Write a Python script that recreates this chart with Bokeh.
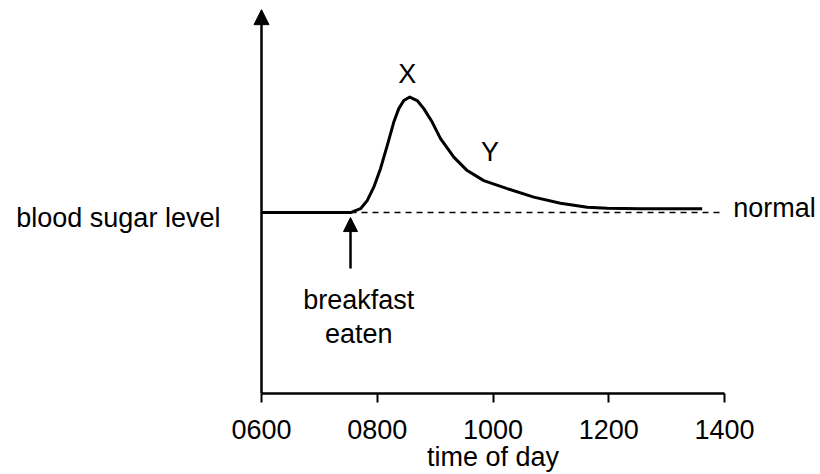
from bokeh.plotting import figure
from bokeh.models import Range1d, FixedTicker, Arrow, NormalHead, Label, LinearAxis
from bokeh.embed import file_html
from bokeh.resources import INLINE

# ---- data (time in hours, blood sugar in arbitrary units) ----
curve_t = [6.0, 7.538, 7.711, 7.826, 7.940, 8.056, 8.172, 8.286, 8.372, 8.459,
           8.562, 8.690, 8.804, 8.949, 9.093, 9.323, 9.554, 9.841, 10.245,
           10.705, 11.166, 11.628, 11.973, 12.549, 13.615]
curve_y = [4.70, 4.70, 4.80, 5.01, 5.36, 5.84, 6.44, 7.05, 7.40, 7.61,
           7.70, 7.61, 7.40, 7.05, 6.62, 6.14, 5.79, 5.53, 5.32,
           5.10, 4.94, 4.84, 4.81, 4.80, 4.80]
normal_level = 4.70
normal_t = [7.538, 13.95]
breakfast_time = 7.538
breakfast_arrow_y = [3.25, 4.57]
axis_top = 9.97
tick_vals = [6, 8, 10, 12, 14]
tick_labels = ["0600", "0800", "1000", "1200", "1400"]
x_title = "time of day"

FONT = "Liberation Sans"
FS = "27px"

p = figure(width=820, height=474, x_range=Range1d(1.4903, 15.6587),
           y_range=Range1d(0, 10.208),
           output_backend="svg", toolbar_location=None,
           min_border_left=0, min_border_right=0, min_border_top=0,
           min_border_bottom=81)
p.outline_line_color = None
p.xgrid.visible = False
p.ygrid.visible = False
p.yaxis.visible = False
p.background_fill_color = "white"
p.border_fill_color = "white"

ax = p.xaxis[0]
ax.bounds = (6, 14)
ax.ticker = FixedTicker(ticks=tick_vals)
ax.major_label_overrides = {v: s for v, s in zip(tick_vals, tick_labels)}
ax.axis_line_width = 2.5
ax.axis_line_color = "black"
ax.major_tick_line_width = 2
ax.major_tick_line_color = "black"
ax.major_tick_out = 9
ax.major_tick_in = 0
ax.minor_tick_line_color = None
ax.major_label_standoff = 17
ax.major_label_text_font = FONT
ax.major_label_text_font_size = FS
ax.major_label_text_color = "black"

# axis title as a second, line-less axis centred at 1000
ax2 = LinearAxis(ticker=FixedTicker(ticks=[10]),
                 major_label_overrides={10: x_title},
                 axis_line_color=None, major_tick_line_color=None,
                 minor_tick_line_color=None, major_tick_out=0, major_tick_in=0,
                 major_label_standoff=0, major_label_text_font=FONT,
                 major_label_text_font_size=FS, major_label_text_color="black")
p.add_layout(ax2, "below")

# y axis as an arrow
p.add_layout(Arrow(x_start=6, y_start=0, x_end=6, y_end=axis_top,
                   line_width=2.5, line_color="black",
                   end=NormalHead(size=15, fill_color="black", line_color="black")))

# normal level dashed line
p.line(normal_t, [normal_level, normal_level], line_color="black", line_width=1.5,
       line_dash="6 5")

# blood sugar curve
p.line(curve_t, curve_y, line_color="black", line_width=3, line_join="round")

# breakfast arrow
p.add_layout(Arrow(x_start=breakfast_time, y_start=breakfast_arrow_y[0],
                   x_end=breakfast_time, y_end=breakfast_arrow_y[1],
                   line_width=2.5, line_color="black",
                   end=NormalHead(size=14, fill_color="black", line_color="black")))

def lab(x, y, text, align="center"):
    p.add_layout(Label(x=x, y=y, text=text, text_align=align,
                       text_baseline="alphabetic", text_font=FONT,
                       text_font_size=FS, text_color="black"))

lab(8.52, 8.29, "X")
lab(9.95, 6.26, "Y")
lab(14.15, 4.83, "normal", "left")
lab(5.29, 4.57, "blood sugar level", "right")
lab(7.68, 2.44, "breakfast")
lab(7.68, 1.535, "eaten")

open("out.html", "w").write(file_html(p, INLINE))
